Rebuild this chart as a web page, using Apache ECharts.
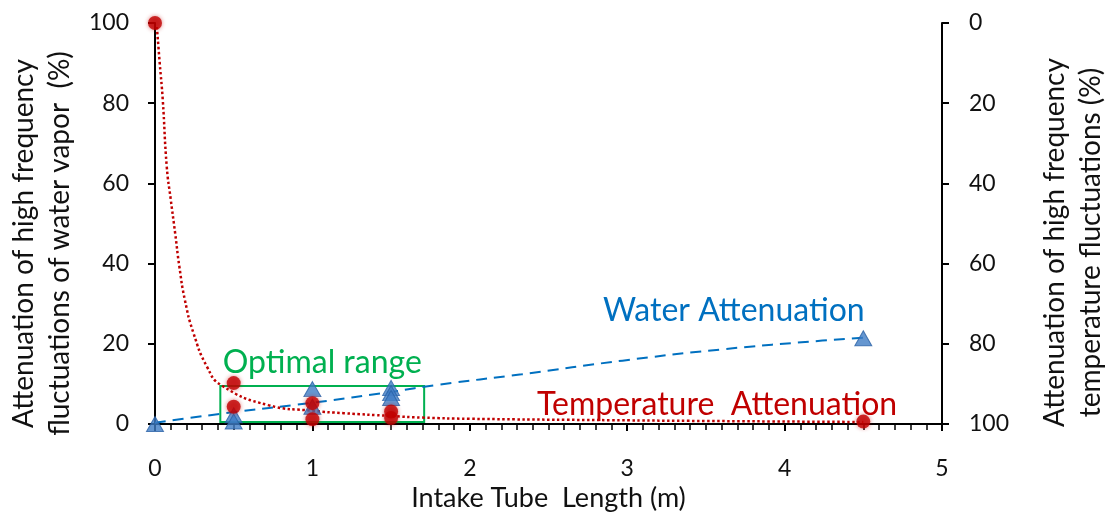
<!DOCTYPE html>
<html>
<head>
<meta charset="utf-8">
<script src="https://cdn.jsdelivr.net/npm/echarts@6/dist/echarts.min.js"></script>
<style>
html,body{margin:0;padding:0;background:#fff;}
#chart{width:1107px;height:514px;}
</style>
</head>
<body>
<div id="chart"></div>
<script>
// Measured points: water vapour attenuation (left axis, %)
const waterPoints = [[0, 0], [0.5, 2.2], [0.5, 0.6], [1, 8.7], [1, 4.3], [1.5, 9.0], [1.5, 7.7], [1.5, 6.5], [4.5, 21.4]];
// Measured points: temperature attenuation (right axis, %, inverted)
const tempPoints = [[0, 0], [0.5, 89.8], [0.5, 95.7], [1, 94.8], [1, 98.8], [1.5, 96.9], [1.5, 98.5], [4.5, 99.4]];
// Trend lines
const waterTrend = [[0, 0.3], [0.45, 2.7], [1, 5.3], [1.5, 8.0], [1.8, 9.8], [2.33, 12.4], [2.97, 15.8], [3.6, 18.6], [4.24, 20.8], [4.5, 21.5]];
const tempTrend = [[0.012, 1], [0.03, 10], [0.049, 19], [0.075, 36], [0.10, 44], [0.128, 52.4], [0.155, 60.8], [0.19, 69.1], [0.245, 77.4], [0.33, 85.7], [0.42, 90.3], [0.72, 95.3], [1.0, 96.7], [1.2, 97.3], [1.5, 98.0], [1.7, 98.4], [2.0, 98.7], [2.9, 99.05], [3.5, 99.25], [4.5, 99.5]];
// Optimal range box [x0, y0 (left axis)], [x1, y1]
const optimalRange = [[0.415, 9.5], [1.71, 0.5]];
// Axis ticks
const xTicks = [0, 5, 1];
const leftTicks = [0, 100, 20];
const rightTicks = [0, 100, 20];

const FONT = 'Lato';
const chart = echarts.init(document.getElementById('chart'));
const option = {
  backgroundColor: '#fff',
  animation: false,
  grid: {left: 155, right: 165, top: 23, bottom: 90, containLabel: false, outerBoundsMode: 'none'},
  xAxis: {
    type: 'value', min: xTicks[0], max: xTicks[1], interval: xTicks[2],
    name: 'Intake Tube  Length (m)', nameLocation: 'middle', nameGap: 59,
    nameTextStyle: {fontFamily: FONT, fontSize: 27, color: '#111'},
    axisLine: {onZero: false, lineStyle: {color: '#000', width: 2}},
    axisTick: {show: true, length: 7, lineStyle: {color: '#000', width: 2}},
    minorTick: {show: true, splitNumber: 10, length: 6, lineStyle: {color: '#000', width: 1.5}},
    splitLine: {show: false},
    axisLabel: {fontFamily: FONT, fontSize: 23, color: '#111', margin: 33}
  },
  yAxis: [{
    type: 'value', min: leftTicks[0], max: leftTicks[1], interval: leftTicks[2],
    name: 'Attenuation of high frequency\nfluctuations of water vapor  (%)',
    nameLocation: 'middle', nameGap: 76, nameRotate: 90,
    nameTextStyle: {fontFamily: FONT, fontSize: 28, color: '#111', lineHeight: 36, padding: [0, 40, 0, 0]},
    axisLine: {show: true, lineStyle: {color: '#000', width: 2}},
    axisTick: {show: true, length: 7, lineStyle: {color: '#000', width: 2}},
    splitLine: {show: false},
    axisLabel: {fontFamily: FONT, fontSize: 23, color: '#111', margin: 26}
  }, {
    type: 'value', min: rightTicks[0], max: rightTicks[1], interval: rightTicks[2], inverse: true,
    position: 'right',
    name: 'Attenuation of high frequency\ntemperature fluctuations (%)',
    nameLocation: 'middle', nameGap: 95, nameRotate: 90,
    nameTextStyle: {fontFamily: FONT, fontSize: 28, color: '#111', lineHeight: 36, padding: [0, 38, 0, 0]},
    axisLine: {show: true, lineStyle: {color: '#000', width: 2}},
    axisTick: {show: true, length: 7, lineStyle: {color: '#000', width: 2}},
    splitLine: {show: false},
    axisLabel: {fontFamily: FONT, fontSize: 23, color: '#111', margin: 27}
  }],
  series: [{
    name: 'Water trend', type: 'line', yAxisIndex: 0, data: waterTrend, smooth: true,
    showSymbol: false, symbol: 'none', z: 2,
    lineStyle: {color: '#0070C0', width: 2, type: [11, 7]},
    markArea: {
      silent: true,
      itemStyle: {color: 'rgba(0,0,0,0)', borderColor: '#00B050', borderWidth: 2},
      label: {show: true, position: 'top', distance: 6, color: '#00B050', fontFamily: FONT, fontSize: 32},
      data: [[{name: 'Optimal range', coord: optimalRange[0]}, {coord: optimalRange[1]}]]
    }
  }, {
    name: 'Temperature trend', type: 'line', yAxisIndex: 1, data: tempTrend, smooth: true,
    showSymbol: false, symbol: 'none', z: 2,
    lineStyle: {color: '#C00000', width: 2.5, type: [2.5, 2.5]}
  }, {
    name: 'Water Attenuation', type: 'scatter', yAxisIndex: 0, data: waterPoints,
    symbol: 'triangle', symbolSize: [17, 15], z: 4,
    itemStyle: {color: '#3F7CC4', borderColor: '#2A62A6', borderWidth: 1}
  }, {
    name: 'Temperature Attenuation', type: 'scatter', yAxisIndex: 1, data: tempPoints,
    symbol: 'circle', symbolSize: 14, z: 5,
    itemStyle: {color: '#C00000', shadowBlur: 4, shadowColor: 'rgba(192,0,0,0.6)'}
  }],
  graphic: [{
    type: 'text', x: 603, y: 311, z: 10,
    style: {text: 'Water Attenuation', fill: '#0070C0', fontFamily: FONT, fontSize: 32, verticalAlign: 'middle', align: 'left'}
  }, {
    type: 'text', x: 537, y: 405, z: 10,
    style: {text: 'Temperature  Attenuation', fill: '#C00000', fontFamily: FONT, fontSize: 32, verticalAlign: 'middle', align: 'left'}
  }]
};
chart.setOption(option);
</script>
</body>
</html>
